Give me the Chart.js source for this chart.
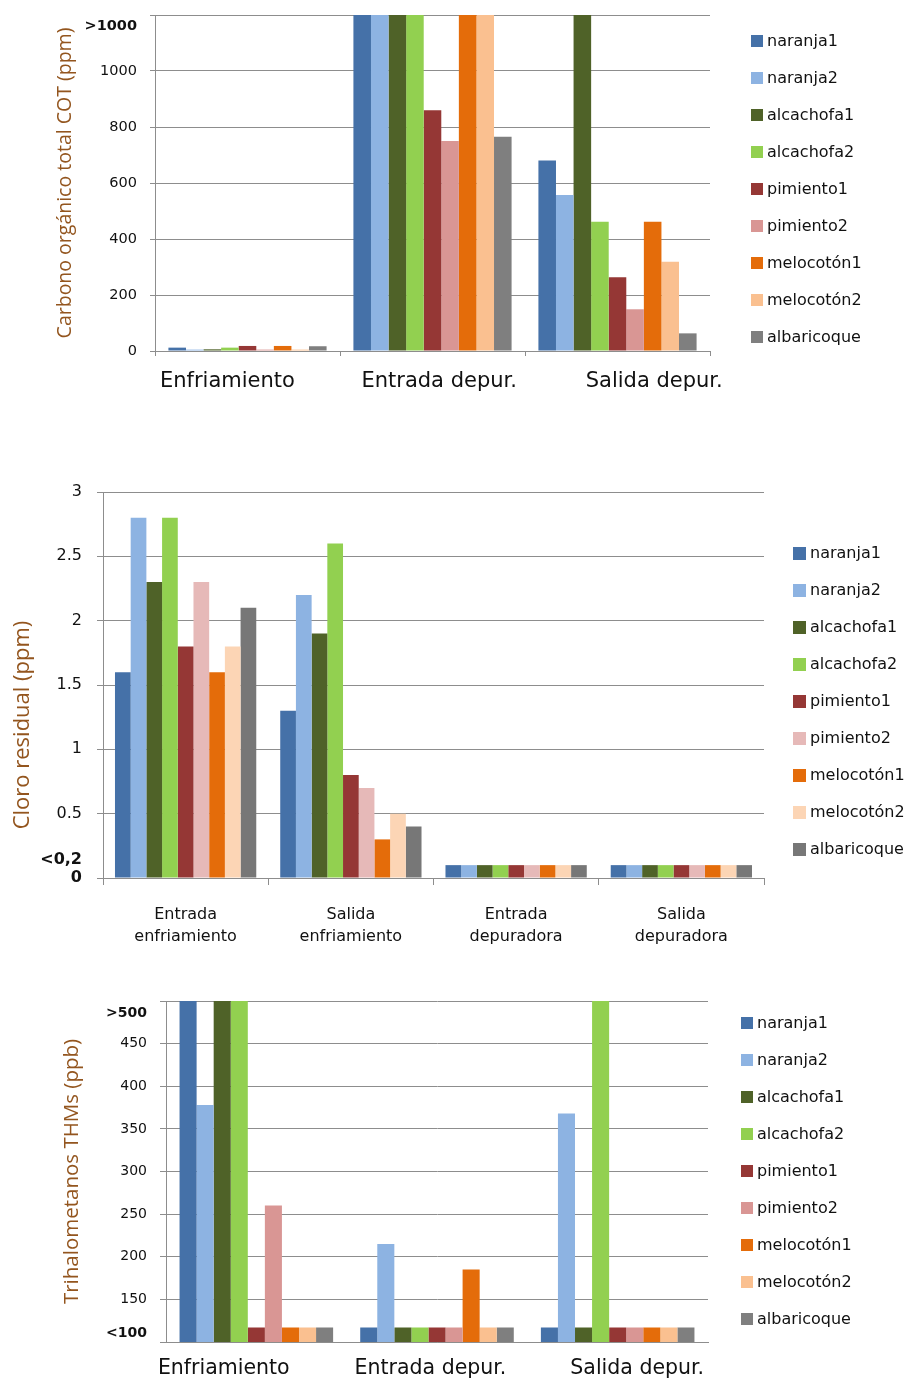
<!DOCTYPE html>
<html lang="es">
<head>
<meta charset="utf-8">
<title>COT, cloro residual y THMs</title>
<script src="https://cdn.jsdelivr.net/npm/chart.js@4/dist/chart.umd.min.js"></script>
<style>
  html, body { margin: 0; padding: 0; background: #fff; }
  #page { position: relative; width: 913px; height: 1381px; overflow: hidden; background: #fff; }
  .panel { position: absolute; left: 0; width: 913px; }
  canvas { display: block; }
</style>
</head>
<body>
<div id="page">
  <div class="panel" style="top:0;height:420px"><canvas id="cot" width="913" height="420"></canvas></div>
  <div class="panel" style="top:420px;height:540px"><canvas id="cloro" width="913" height="540"></canvas></div>
  <div class="panel" style="top:960px;height:421px"><canvas id="thm" width="913" height="421"></canvas></div>
</div>
<script>
// ---- Productos (series) ----
const productos = ['naranja1', 'naranja2', 'alcachofa1', 'alcachofa2', 'pimiento1',
                   'pimiento2', 'melocotón1', 'melocotón2', 'albaricoque'];

// ---- Carbono orgánico total COT (ppm); valores ">1000" se dibujan en el tope 1200 ----
const cotCategorias = ['Enfriamiento', 'Entrada depur.', 'Salida depur.'];
const cotEnfriamiento  = [12, 5, 6, 12, 18, 5, 18, 5, 17];
const cotEntradaDepur  = [1200, 1200, 1200, 1200, 860, 750, 1200, 1200, 765];
const cotSalidaDepur   = [680, 557, 1200, 462, 263, 149, 462, 319, 63];
const cotTickValues = [0, 200, 400, 600, 800, 1000, 1161, 1200];
const cotTickLabels = ['0', '200', '400', '600', '800', '1000', '>1000', ''];

// ---- Cloro residual (ppm); "<0,2" se dibuja como 0,1 ----
const cloroCategorias = [['Entrada', 'enfriamiento'], ['Salida', 'enfriamiento'],
                         ['Entrada', 'depuradora'], ['Salida', 'depuradora']];
const cloroEntradaEnfr = [1.6, 2.8, 2.3, 2.8, 1.8, 2.3, 1.6, 1.8, 2.1];
const cloroSalidaEnfr  = [1.3, 2.2, 1.9, 2.6, 0.8, 0.7, 0.3, 0.5, 0.4];
const cloroEntradaDep  = [0.1, 0.1, 0.1, 0.1, 0.1, 0.1, 0.1, 0.1, 0.1];
const cloroSalidaDep   = [0.1, 0.1, 0.1, 0.1, 0.1, 0.1, 0.1, 0.1, 0.1];
const cloroTickValues = [0, 0.14, 0.5, 1, 1.5, 2, 2.5, 3];
const cloroTickLabels = ['0', '<0,2', '0.5', '1', '1.5', '2', '2.5', '3'];

// ---- Trihalometanos THMs (ppb); "<100" y ">500" en los extremos del eje ----
const thmCategorias = ['Enfriamiento', 'Entrada depur.', 'Salida depur.'];
const thmEnfriamiento = [500, 378, 500, 500, 117, 260, 117, 117, 117];
const thmEntradaDepur = [117, 215, 117, 117, 117, 117, 185, 117, 117];
const thmSalidaDepur  = [117, 368, 117, 500, 117, 117, 117, 117, 117];
const thmTickValues = [100, 110, 150, 200, 250, 300, 350, 400, 450, 486, 500];
const thmTickLabels = ['', '<100', '150', '200', '250', '300', '350', '400', '450', '>500', ''];

// ---- Colores ----
const coloresA = ['#4571a8', '#8db3e2', '#4f6228', '#92d050', '#953735',
                  '#d99694', '#e46c0a', '#fac090', '#7f7f7f'];
const coloresB = ['#4571a8', '#8db3e2', '#4f6228', '#92d050', '#953735',
                  '#e6b9b8', '#e46c0a', '#fcd5b5', '#777777'];

const GRID = '#8d8d8d';
const TEXT = '#111111';
const TITLE = '#93551e';
const SANS = "'DejaVu Sans', Verdana, sans-serif";
const TITLE_FONT = "'Open Sans', 'Liberation Sans', sans-serif";

// Leyenda lateral con cuadros de color, dibujada a partir de los datasets
const sideLegend = {
  id: 'sideLegend',
  afterDraw(chart, args, o) {
    const ctx = chart.ctx;
    ctx.save();
    ctx.font = o.size + 'px ' + SANS;
    ctx.textBaseline = 'middle';
    ctx.textAlign = 'left';
    chart.data.datasets.forEach((ds, i) => {
      const y = o.top + i * o.step;
      ctx.fillStyle = ds.backgroundColor;
      ctx.fillRect(o.x, Math.round(y - o.box / 2), o.box, o.box);
      ctx.fillStyle = TEXT;
      ctx.fillText(ds.label, o.x + o.box + 4, y + 1);
    });
    ctx.restore();
  }
};

// Una etiqueta de categoría desplazada con espacios (negativo = a la izquierda)
function shift(label, n) {
  return n < 0 ? label + '\u00a0'.repeat(-n) : '\u00a0'.repeat(n) + label;
}

function makeDatasets(byCategory, colors, catPct) {
  return productos.map((p, i) => ({
    label: p,
    data: byCategory.map(arr => arr[i]),
    backgroundColor: colors[i],
    borderWidth: 0,
    categoryPercentage: catPct,
    barPercentage: 1
  }));
}

function yAxis(c) {
  return {
    type: 'linear',
    min: c.values[0],
    max: c.values[c.values.length - 1],
    afterBuildTicks: s => { s.ticks = c.values.map(v => ({ value: v })); },
    afterFit: s => {
      s.width = c.width;
      // el área de trazado la fija layout.padding, sin holgura extra por las etiquetas
      s.paddingTop = 0;
      s.paddingBottom = 0;
    },
    border: { display: true, color: GRID, width: 1 },
    grid: {
      color: ctx => (ctx.tick && c.labelOnly.includes(ctx.tick.value)) ? 'rgba(0,0,0,0)' : GRID,
      tickColor: ctx => (ctx.tick && c.labelOnly.includes(ctx.tick.value)) ? 'rgba(0,0,0,0)' : GRID,
      lineWidth: 1,
      tickLength: c.tickLength,
      drawTicks: true
    },
    ticks: {
      autoSkip: false,
      padding: c.padding,
      color: TEXT,
      callback: v => c.labels[c.values.indexOf(v)],
      font: ctx => ({
        family: SANS,
        size: c.size,
        weight: (ctx.tick && c.bold.includes(ctx.tick.value)) ? 'bold' : 'normal'
      })
    },
    title: {
      display: true,
      text: c.title,
      color: TITLE,
      font: { family: TITLE_FONT, size: c.titleSize, lineHeight: 1.2 },
      padding: { top: c.titlePad, bottom: 0 }
    }
  };
}

function xAxis(c) {
  return {
    type: 'category',
    offset: true,
    afterFit: s => { s.height = c.height; },
    border: { display: true, color: GRID, width: 1 },
    grid: {
      offset: true,
      drawOnChartArea: false,
      drawTicks: c.tickLength > 0,
      tickLength: c.tickLength,
      color: GRID
    },
    ticks: {
      autoSkip: false,
      maxRotation: 0,
      minRotation: 0,
      padding: c.padding,
      color: TEXT,
      font: { family: SANS, size: c.size, lineHeight: c.lineHeight }
    }
  };
}

function baseOptions(padding, scales, legend) {
  return {
    responsive: false,
    animation: false,
    events: [],
    layout: { padding },
    plugins: {
      legend: { display: false },
      tooltip: { enabled: false },
      sideLegend: legend
    },
    scales
  };
}

// ---- Gráfico 1: COT ----
new Chart(document.getElementById('cot'), {
  type: 'bar',
  data: {
    labels: [shift(cotCategorias[0], -6), shift(cotCategorias[1], 2), shift(cotCategorias[2], 11)],
    datasets: makeDatasets([cotEnfriamiento, cotEntradaDepur, cotSalidaDepur], coloresA, 0.855)
  },
  options: baseOptions(
    { left: 0, top: 15, right: 203, bottom: 0 },
    {
      x: xAxis({ height: 69, tickLength: 5, padding: 13, size: 21, lineHeight: 1.2 }),
      y: yAxis({
        values: cotTickValues, labels: cotTickLabels, labelOnly: [1161], bold: [1161],
        width: 155, tickLength: 5, padding: 13, size: 14.5,
        title: 'Carbono orgánico total COT (ppm)', titleSize: 19.5, titlePad: 54
      })
    },
    { x: 751, top: 41, step: 37, box: 12, size: 16 }
  ),
  plugins: [sideLegend]
});

// ---- Gráfico 2: Cloro residual ----
new Chart(document.getElementById('cloro'), {
  type: 'bar',
  data: {
    labels: cloroCategorias,
    datasets: makeDatasets([cloroEntradaEnfr, cloroSalidaEnfr, cloroEntradaDep, cloroSalidaDep], coloresB, 0.855)
  },
  options: baseOptions(
    { left: 0, top: 72, right: 149, bottom: 0 },
    {
      x: xAxis({ height: 82, tickLength: 7, padding: 19, size: 16, lineHeight: 1.375 }),
      y: yAxis({
        values: cloroTickValues, labels: cloroTickLabels, labelOnly: [0.14], bold: [0, 0.14],
        width: 103, tickLength: 6, padding: 15, size: 16,
        title: shift('Cloro residual (ppm)', -14), titleSize: 22, titlePad: 10
      })
    },
    { x: 793, top: 133, step: 37, box: 13, size: 16 }
  ),
  plugins: [sideLegend]
});

// ---- Gráfico 3: Trihalometanos ----
new Chart(document.getElementById('thm'), {
  type: 'bar',
  data: {
    labels: [shift(thmCategorias[0], -10), shift(thmCategorias[1], -2), shift(thmCategorias[2], 6)],
    datasets: makeDatasets([thmEnfriamiento, thmEntradaDepur, thmSalidaDepur], coloresA, 0.85)
  },
  options: baseOptions(
    { left: 0, top: 41, right: 205, bottom: 0 },
    {
      x: xAxis({ height: 39, tickLength: 0, padding: 14, size: 20.5, lineHeight: 1.2 }),
      y: yAxis({
        values: thmTickValues, labels: thmTickLabels, labelOnly: [110, 486], bold: [110, 486],
        width: 166, tickLength: 6, padding: 13, size: 14,
        title: 'Trihalometanos THMs (ppb)', titleSize: 20.5, titlePad: 60
      })
    },
    { x: 741, top: 63, step: 37, box: 12, size: 16 }
  ),
  plugins: [sideLegend]
});
</script>
</body>
</html>
